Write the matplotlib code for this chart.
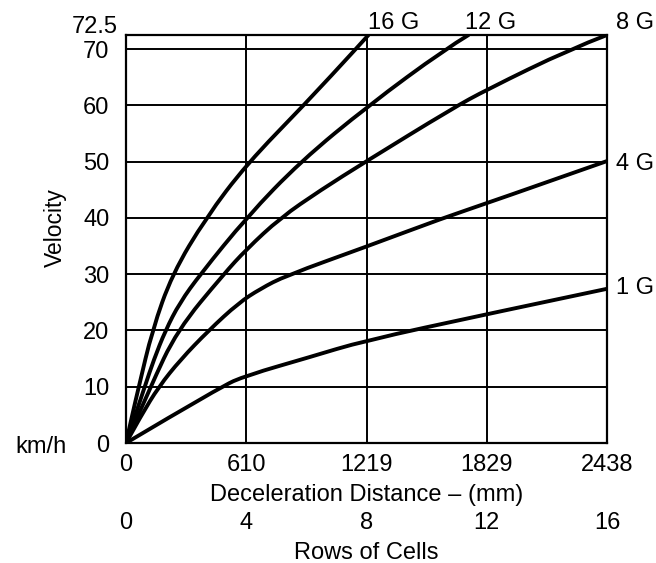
import matplotlib
matplotlib.use('Agg')
import matplotlib.pyplot as plt
from matplotlib.path import Path
from matplotlib.patches import PathPatch

plt.rcParams['font.family'] = ['Liberation Sans', 'DejaVu Sans']

# ---- data ----
x_ticks_mm = [0, 610, 1219, 1829, 2438]
row_ticks = [0, 4, 8, 12, 16]
y_ticks = [0, 10, 20, 30, 40, 50, 60, 70]
y_top = 72.5

g16_mm = [0, 31, 65, 133, 234, 405, 610, 909, 1170, 1229]
g16_v = [0, 4.9, 10, 20, 30, 40, 49.5, 60.3, 70.2, 72.5]

g12_mm = [0, 95, 141, 200, 272, 377, 614, 884, 1230, 1618, 1736]
g12_v = [0, 10, 14.8, 20, 24.9, 30, 40.2, 50, 60, 70, 72.5]

g8_mm = [0, 124, 259, 495, 610, 782, 985, 1215, 1652, 1829, 2251, 2438]
g8_v = [0, 10, 20, 30, 34.4, 40, 44.9, 50, 59.4, 62.8, 70, 72.5]

g4_mm = [0, 77, 166, 276, 419, 571, 681, 808, 1219, 1609, 1829, 2438]
g4_v = [0, 4.9, 10, 14.8, 20, 24.9, 27.4, 29.7, 34.9, 40, 42.6, 50.1]

g1_mm = [0, 480, 610, 935, 1200, 1829, 2438]
g1_v = [0, 10, 12.0, 15.3, 18.1, 22.9, 27.4]

fig = plt.figure(figsize=(6.56, 5.63), dpi=100)
ax = fig.add_axes([126/656, 1 - 443/563, (607-126)/656, (443-35)/563])

ax.set_xlim(0, 2438)
ax.set_ylim(0, y_top)

# grid lines
for y in y_ticks[1:]:
    ax.axhline(y, color='black', lw=1.4, zorder=1)
for x in x_ticks_mm[1:-1]:
    ax.axvline(x, color='black', lw=1.4, zorder=1)
for sp in ax.spines.values():
    sp.set_linewidth(1.6)


def smooth_curve(xs, ys):
    """Draw a smooth quadratic-Bezier chain using the read points as controls."""
    pts = list(zip(xs, ys))
    verts = [pts[0]]
    codes = [Path.MOVETO]
    n = len(pts)
    for i in range(1, n - 1):
        if i < n - 2:
            end = ((pts[i][0] + pts[i + 1][0]) / 2, (pts[i][1] + pts[i + 1][1]) / 2)
        else:
            end = pts[n - 1]
        verts += [pts[i], end]
        codes += [Path.CURVE3, Path.CURVE3]
    patch = PathPatch(Path(verts, codes), facecolor='none', edgecolor='black',
                      lw=2.8, capstyle='round', joinstyle='round', zorder=3)
    ax.add_patch(patch)


for xs, ys in [(g16_mm, g16_v), (g12_mm, g12_v), (g8_mm, g8_v),
               (g4_mm, g4_v), (g1_mm, g1_v)]:
    smooth_curve(xs, ys)

FS = 17

# curve labels
def curve_label(text, xs, ys, dx, dy):
    ax.annotate(text, (xs[-1], ys[-1]), xytext=(dx, dy), textcoords='offset points',
                ha='left', va='center', fontsize=FS, annotation_clip=False)

curve_label("16 G", g16_mm, g16_v, 0, 8.3)
curve_label("12 G", g12_mm, g12_v, -2.4, 8.3)
curve_label("8 G", g8_mm, g8_v, 6.5, 8.6)
curve_label("4 G", g4_mm, g4_v, 6.5, -2)
curve_label("1 G", g1_mm, g1_v, 6.5, 0.5)

ax.set_xticks(x_ticks_mm)
ax.set_xticklabels([str(v) for v in x_ticks_mm], fontsize=FS)
ax.set_yticks(y_ticks)
ax.set_yticklabels([str(v) for v in y_ticks], fontsize=FS)
ax.tick_params(axis='both', length=0)
ax.tick_params(axis='x', pad=8)
ax.tick_params(axis='y', pad=12)

ax.annotate("72.5", (0, y_top), xytext=(-5.8, 6.1), textcoords='offset points',
            ha='right', va='center', fontsize=FS, annotation_clip=False)

ax.set_xlabel("Deceleration Distance \u2013 (mm)", fontsize=FS, labelpad=6)
ax.set_ylabel("Velocity", fontsize=16.5)
ax.yaxis.set_label_coords(-0.1227, 0.527)

ax.annotate("km/h", (0, 0), xytext=(-61.5, -3), textcoords='offset points',
            ha='center', va='center', fontsize=FS, annotation_clip=False)

sec = ax.secondary_xaxis(-0.152, functions=(lambda m: m * 16 / 2438,
                                             lambda r: r * 2438 / 16))
sec.set_xticks(row_ticks)
sec.set_xticklabels([str(v) for v in row_ticks], fontsize=FS)
sec.tick_params(length=0, pad=5)
sec.spines['bottom'].set_visible(False)
sec.set_xlabel("Rows of Cells", fontsize=FS, labelpad=6)

fig.savefig("out.png", dpi=100, facecolor='white')
